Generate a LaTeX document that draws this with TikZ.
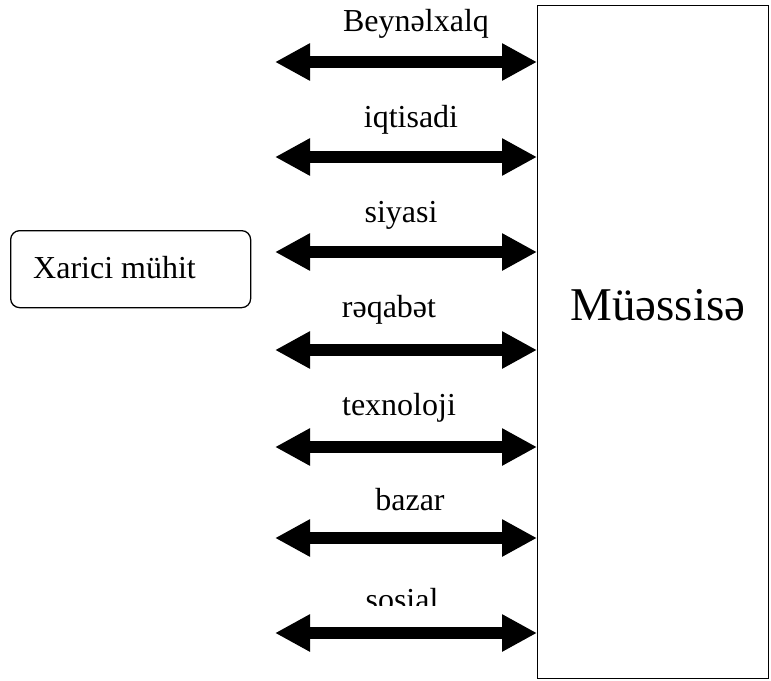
\documentclass[tikz,border=0pt]{standalone}
\usepackage{fontspec}
\setmainfont{Liberation Serif}
\usetikzlibrary{arrows.meta}
\begin{document}
\begin{tikzpicture}[x=1pt,y=-1pt,
  boxline/.style={draw=black,line width=1.3pt},
  flow/.style={line width=12pt,
    {Triangle[length=35pt,width=35pt]}-{Triangle[length=35pt,width=35pt]}},
  lbl/.style={anchor=base,inner sep=0pt,font=\fontsize{32}{38}\selectfont}]
\useasboundingbox (0,0) rectangle (771,680);
% the firm
\node[boxline,rectangle,minimum width=231pt,minimum height=673pt,anchor=north west,
  inner sep=0pt] (firm) at (537,5) {};
\node[anchor=base,inner sep=0pt,font=\fontsize{47}{56}\selectfont] (firmtxt) at (658,320) {Müəssisə};
% the external environment
\node[boxline,rectangle,rounded corners=9pt,minimum width=240pt,minimum height=77pt,
  anchor=north west,inner sep=0pt] (env) at (10,230) {};
\node[anchor=base west,inner sep=0pt,font=\fontsize{32}{38}\selectfont] (envtxt) at (33,278) {Xarici mühit};
% free left ends of the links
\foreach \n/\y in {a/62,b/157,c/252,d/350,e/447,f/538,g/633}
  \coordinate (\n) at (275,\y);
\foreach \n in {a,b,c,d,e,f,g}
  \draw[flow] (\n) -- (\n -| firm.west);
% link labels
\node[lbl] (la) at (416,31) {Beynəlxalq};
\node[lbl] (lb) at (411,127) {iqtisadi};
\node[lbl] (lc) at (401,222) {siyasi};
\node[lbl] (ld) at (389,317) {rəqabət};
\node[lbl] (le) at (399,415) {texnoloji};
\node[lbl] (lf) at (410,510) {bazar};
\begin{scope}
  \clip (300,570) rectangle (520,605);
  \node[lbl] (lg) at (402,610) {sosial};
\end{scope}
\end{tikzpicture}
\end{document}
